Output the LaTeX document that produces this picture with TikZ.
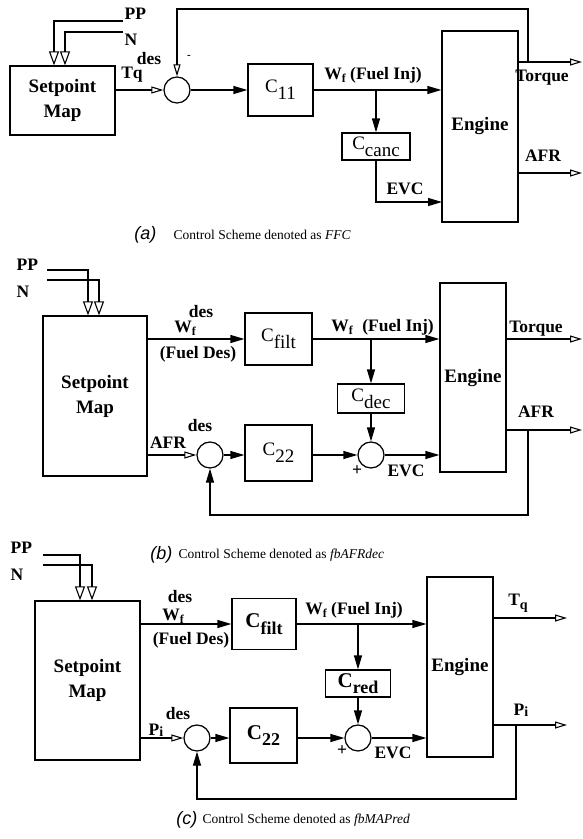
\documentclass[tikz,border=0pt]{standalone}
\usepackage{fontspec}
\setmainfont{Liberation Serif}
\setsansfont{Liberation Sans}
\usetikzlibrary{arrows.meta}
\newcommand\ctl[1]{C\raisebox{-0.35em}{#1}}
\newcommand\bctl[1]{\bfseries C\raisebox{-0.3em}{\fontsize{18}{20}\selectfont #1}}
\newcommand\wsub{W\raisebox{-3pt}{\fontsize{12}{13}\selectfont f}}
\begin{document}
\begin{tikzpicture}[x=1pt,y=-1pt,
  line width=1.25pt,
  blk/.style={draw, rectangle, inner sep=0pt},
  smap/.style={blk, align=center, font=\fontsize{19}{25}\selectfont\bfseries},
  sumc/.style={draw, circle, minimum size=26pt, inner sep=0pt},
  lbl/.style={font=\fontsize{17.5}{19}\selectfont\bfseries, inner sep=0pt},
  englbl/.style={font=\fontsize{19}{21}\selectfont\bfseries},
  clbl/.style={font=\fontsize{19}{21}\selectfont},
  cblbl/.style={font=\fontsize{21}{23}\selectfont},
  fa/.style={-{Triangle[length=14pt,width=8pt]}},
  oa/.style={-{Triangle[open,length=12pt,width=7pt,line width=1.1pt]}},
  oav/.style={-{Triangle[open,length=14pt,width=10pt,line width=1.1pt]}},
  captxt/.style={anchor=west, inner sep=0pt, font=\fontsize{13.5}{15}\selectfont},
  capnum/.style={anchor=east, inner sep=0pt, font=\fontsize{18}{19}\selectfont\sffamily\itshape}]
\useasboundingbox (0,0) rectangle (582,839);

% ================= Panel (a) =================
\node[smap, minimum width=105pt, minimum height=69pt] (smA) at (62.5,100.5) {Setpoint\\Map};
\node[sumc] (sumA) at (177,90) {};
\node[blk, clbl, minimum width=65pt, minimum height=52pt] (c11) at (280.5,90) {\ctl{11}};
\node[blk, clbl, minimum width=68pt, minimum height=27pt] (ccanc) at (376,146.5) {\ctl{canc}};
\node[blk, englbl, minimum width=76pt, minimum height=191pt] (engA) at (480,126.5) {Engine};

\coordinate (ppA) at (123,21);
\coordinate (nA) at (123,32);
\draw[oav] (ppA) -| ([xshift=-8.5pt]smA.north);
\draw[oav] (nA) -| ([xshift=2.5pt]smA.north);
\node[lbl, anchor=west] (ppAl) at (124,14) {PP};
\node[lbl, anchor=west] (nAl) at (124,40) {N};

\draw[oa] (smA.east |- sumA) -- (sumA.west);
\node[lbl] (tqA) at (132,75) {Tq};
\node[lbl] (tqdA) at (149,59) {des};
\draw[fa] (sumA.east) -- (c11.west);
\draw[fa] (c11.east) -- (c11.east -| engA.west);
\coordinate (brA) at (376,90);
\draw[fa] (brA) -- (ccanc.north);
\coordinate (evcA) at (442,202);
\draw[fa] (ccanc.south) |- (evcA);
\coordinate (tqoA) at (582,62);
\draw[oa] (engA.east |- tqoA) -- (tqoA);
\coordinate (afroA) at (582,173);
\draw[oa] (engA.east |- afroA) -- (afroA);
\coordinate (fbA) at (528,62);
\coordinate (fbtA) at (528,9);
\draw[oa] (fbA) -- (fbtA) -| (sumA.north);
\node[font=\bfseries\fontsize{11}{11}\selectfont, inner sep=0pt] (minA) at (189,57) {-};

\node[lbl] (wfA) at (373,75) {\wsub\ (Fuel Inj)};
\node[lbl] (evcAl) at (405,189) {EVC};
\node[lbl] (torqA) at (542,78) {Torque};
\node[lbl] (afrA) at (543,156) {AFR};

\node[capnum] (capAn) at (157,235) {(a)};
\node[captxt] (capA) at (173,235) {Control Scheme denoted as \textit{FFC}};

% ================= Panel (b) =================
\node[smap, minimum width=104pt, minimum height=160pt] (smB) at (95,396) {Setpoint\\Map};
\node[blk, clbl, minimum width=67pt, minimum height=52pt] (cfiltB) at (278.5,339) {\ctl{filt}};
\node[blk, clbl, minimum width=67pt, minimum height=29pt] (cdecB) at (371,398.5) {\ctl{dec}};
\node[blk, clbl, minimum width=67pt, minimum height=56pt] (c22B) at (278.5,453) {\ctl{22}};
\node[sumc] (sum1B) at (210,455) {};
\node[sumc] (sum2B) at (371,455) {};
\node[blk, englbl, minimum width=66pt, minimum height=189pt] (engB) at (473,377.5) {Engine};

\node[lbl, anchor=west] (ppBl) at (16,265) {PP};
\node[lbl, anchor=west] (nBl) at (16,292) {N};
\coordinate (ppB) at (47,270);
\coordinate (nB) at (47,280);
\draw[oav] (ppB) -| ([xshift=-7pt]smB.north);
\draw[oav] (nB) -| ([xshift=4pt]smB.north);

\draw[fa] (smB.east |- cfiltB) -- (cfiltB.west);
\node[lbl] (wfdB) at (185,328) {\wsub};
\node[lbl] (desB1) at (201,312) {des};
\node[lbl] (fdB) at (198,354) {(Fuel Des)};

\draw[fa] (cfiltB.east) -- (cfiltB.east -| engB.west);
\node[lbl] (wfB) at (342,327) {\wsub};
\node[lbl] (fiB) at (398,327) {(Fuel Inj)};
\coordinate (brB) at (371,339);
\draw[fa] (brB) -- (cdecB.north);
\draw[fa] (cdecB.south) -- (sum2B.north);

\draw[oa] (smB.east |- sum1B) -- (sum1B.west);
\node[lbl] (afrdB) at (168,443) {AFR};
\node[lbl] (desB2) at (200,426) {des};
\draw[fa] (sum1B.east) -- (sum1B.east -| c22B.west);
\draw[fa] (c22B.east |- sum2B) -- (sum2B.west);
\node[lbl] (plusB) at (357,471) {+};
\draw[fa] (sum2B.east) -- (sum2B.east -| engB.west);
\node[lbl] (evcB) at (406,471) {EVC};

\coordinate (tqoB) at (582,339);
\draw[oa] (engB.east |- tqoB) -- (tqoB);
\node[lbl] (torqB) at (536,329) {Torque};
\coordinate (afroB) at (582,430);
\draw[oa] (engB.east |- afroB) -- (afroB);
\node[lbl] (afrB) at (536,412) {AFR};
\coordinate (fbB) at (528,430);
\coordinate (fbbB) at (528,515);
\draw[fa] (fbB) -- (fbbB) -| (sum1B.south);

\node[capnum] (capBn) at (173,555) {(b)};
\node[captxt] (capB) at (178,555) {Control Scheme denoted as \textit{fbAFRdec}};

% ================= Panel (c) =================
\node[smap, minimum width=105pt, minimum height=159pt] (smC) at (87.5,680.5) {Setpoint\\Map};
\node[blk, cblbl, minimum width=64pt, minimum height=51pt] (cfiltC) at (264,624) {\bctl{filt}};
\node[blk, cblbl, minimum width=65pt, minimum height=27pt] (credC) at (358,683.5) {\bctl{red}};
\node[blk, cblbl, minimum width=67pt, minimum height=55pt] (c22C) at (263.5,735.5) {\bctl{22}};
\node[sumc] (sum1C) at (197,738) {};
\node[sumc] (sum2C) at (358,738) {};
\node[blk, englbl, minimum width=66pt, minimum height=180pt] (engC) at (460,667) {Engine};

\node[lbl, anchor=west] (ppCl) at (10,548) {PP};
\node[lbl, anchor=west] (nCl) at (10,575) {N};
\coordinate (ppC) at (43,555);
\coordinate (nC) at (43,565);
\draw[oav] (ppC) -| ([xshift=-7.5pt]smC.north);
\draw[oav] (nC) -| ([xshift=4.5pt]smC.north);

\draw[fa] (smC.east |- cfiltC) -- (cfiltC.west);
\node[lbl] (wfdC) at (173,616) {\wsub};
\node[lbl] (desC1) at (180,597) {des};
\node[lbl] (fdC) at (191,640) {(Fuel Des)};

\draw[fa] (cfiltC.east) -- (cfiltC.east -| engC.west);
\node[lbl] (wfC) at (354,610) {\wsub\ (Fuel Inj)};
\coordinate (brC) at (358,624);
\draw[fa] (brC) -- (credC.north);
\draw[fa] (credC.south) -- (sum2C.north);

\draw[oa] (smC.east |- sum1C) -- (sum1C.west);
\node[lbl] (pidC) at (156,730) {P\raisebox{-1pt}{\fontsize{14}{15}\selectfont i}};
\node[lbl] (desC2) at (178,714) {des};
\draw[fa] (sum1C.east) -- (sum1C.east -| c22C.west);
\draw[fa] (c22C.east |- sum2C) -- (sum2C.west);
\node[lbl] (plusC) at (342,751) {+};
\draw[fa] (sum2C.east) -- (sum2C.east -| engC.west);
\node[lbl] (evcC) at (393,753) {EVC};

\coordinate (tqoC) at (567,618);
\draw[oa] (engC.east |- tqoC) -- (tqoC);
\node[lbl] (tqC) at (518,603) {T\raisebox{-4pt}{\fontsize{14}{15}\selectfont q}};
\coordinate (pioC) at (567,725);
\draw[oa] (engC.east |- pioC) -- (pioC);
\node[lbl] (piC) at (521,710) {P\raisebox{-1pt}{\fontsize{14}{15}\selectfont i}};
\coordinate (fbC) at (516,725);
\coordinate (fbbC) at (516,799);
\draw[fa] (fbC) -- (fbbC) -| (sum1C.south);

\node[capnum] (capCn) at (198,820) {(c)};
\node[captxt] (capC) at (202,820) {Control Scheme denoted as \textit{fbMAPred}};
\end{tikzpicture}
\end{document}
